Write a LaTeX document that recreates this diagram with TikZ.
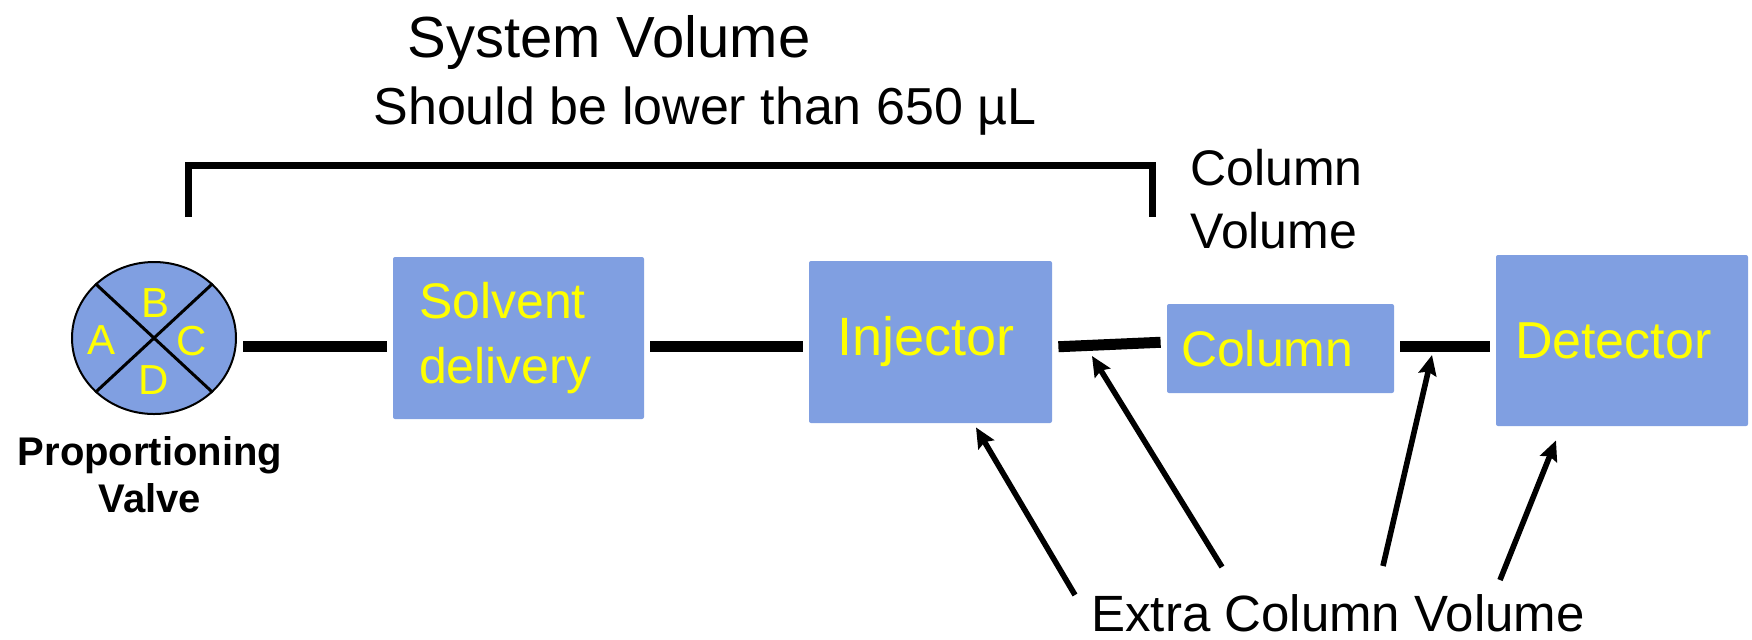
\documentclass[tikz,border=0pt]{standalone}
\usepackage{fontspec}
\setmainfont{Liberation Sans}
\usetikzlibrary{arrows.meta,shapes.geometric}

\definecolor{boxblue}{RGB}{128,159,225}
\definecolor{labelyellow}{RGB}{255,255,0}

\begin{document}
\begin{tikzpicture}[x=0.5pt, y=-0.5pt,
            unit/.style={rectangle, fill=boxblue, rounded corners=1pt, text=labelyellow, align=left, inner ysep=0pt},
            valve/.style={ellipse, draw, line width=1pt, fill=boxblue, minimum width=82pt, minimum height=76pt, inner sep=0pt},
            port/.style={text=labelyellow, font=\fontsize{21}{25}\selectfont, inner sep=0pt},
            pipe/.style={line width=5.5pt, shorten <=3pt, shorten >=3pt},
            pointer/.style={-{Stealth[length=10pt, width=9pt, inset=1.5pt]}, line width=2.8pt}
            ]
            \useasboundingbox (0,0) rectangle (1752,639);
            
            % Headings
            \node[font=\fontsize{29}{35}\selectfont, anchor=base] (sysvol) at (609,57) {System Volume};
            \node[font=\fontsize{26}{31}\selectfont, anchor=base] (limit) at (705,124) {Should be lower than 650 µL};
            \node[font=\fontsize{25}{31.5}\selectfont, anchor=base west, align=left, inner sep=0pt] (colvol) at (1190,248) {Column\\Volume};
            
            % Bracket over the system part
            \draw[line width=3.5pt] (188,217) -- (188,165) -- (1152,165) -- (1152,217);
            
            % Proportioning valve
            \node[valve] (valve) at (154,338) {};
            \draw[line width=1.5pt] (valve.north west) -- (valve.south east);
            \draw[line width=1.5pt] (valve.north east) -- (valve.south west);
            \node[port] (portA) at (102,340) {A};
            \node[port] (portB) at (156,303) {B};
            \node[port] (portC) at (192,341) {C};
            \node[port] (portD) at (154,380) {D};
            \node[font=\bfseries\fontsize{20}{23.5}\selectfont, align=center] (valvename) at (150,475) {Proportioning\\Valve};
            
            % Units
            \node[unit, font=\fontsize{25}{32.5}\selectfont, minimum height=81pt, text width=99.5pt, inner xsep=13pt] (solvent) at (518.5,338) {Solvent\\delivery};
            \node[unit, font=\fontsize{27}{32}\selectfont, minimum height=81pt, text width=93.5pt, inner xsep=14pt] (injector) at (930.5,342) {Injector};
            \node[unit, font=\fontsize{25}{30}\selectfont, minimum height=44.5pt, text width=99.5pt, inner xsep=7pt] (column) at (1280.5,348.5) {Column};
            \node[unit, font=\fontsize{26}{31}\selectfont, minimum height=85.5pt, text width=107pt, inner xsep=9.5pt] (detector) at (1622,340.5) {Detector};
            
            % Tubing
            \draw[pipe] ([yshift=-4pt]valve.east) -- ([yshift=-4pt]solvent.west);
            \draw[pipe] ([yshift=-4pt]solvent.east) -- ([yshift=-2pt]injector.west);
            \draw[pipe] ([yshift=-2.5pt]injector.east) -- ([yshift=3.25pt]column.west);
            \draw[pipe] ([yshift=1.25pt]column.east) -- ([yshift=-2.75pt]detector.west);
            
            % Extra column volume
            \node[font=\fontsize{25.5}{31}\selectfont, anchor=base] (extra) at (1338,631) {Extra Column Volume};
            \coordinate (foot1) at (1075,595);
            \coordinate (foot2) at (1222,567);
            \coordinate (foot3) at (1383,566);
            \coordinate (foot4) at (1500,580);
            \coordinate (tubeA) at (1092,356);
            \coordinate (tubeB) at (1432,355);
            \draw[pointer] (foot1) -- ([shift={(45.5,4)}]injector.south);
            \draw[pointer] (foot2) -- (tubeA);
            \draw[pointer] (foot3) -- (tubeB);
            \draw[pointer] (foot4) -- ([shift={(-66,14)}]detector.south);
            
\end{tikzpicture}
\end{document}
